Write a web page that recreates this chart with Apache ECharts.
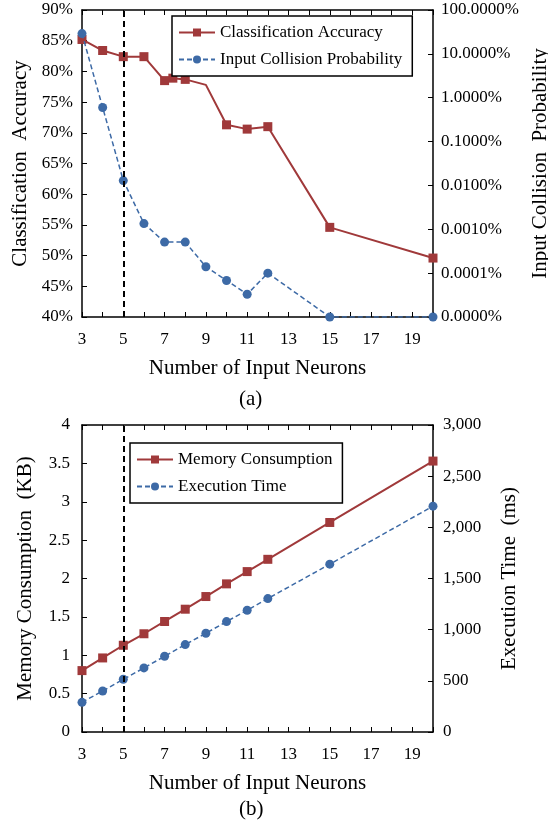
<!DOCTYPE html>
<html>
<head>
<meta charset="utf-8">
<script src="https://cdn.jsdelivr.net/npm/echarts@6/dist/echarts.min.js"></script>
<style>
html,body{margin:0;padding:0;background:#fff;}
#c{width:548px;height:831px;}
</style>
</head>
<body>
<div id="c"></div>
<script>
// ---- data ----
const accNeurons = [3, 4, 5, 6, 7, 7.4, 8, 9, 10, 11, 12, 15, 20];
const accuracy = [85.2, 83.4, 82.4, 82.4, 78.5, 78.9, 78.7, 77.8, 71.3, 70.6, 71.0, 54.6, 49.6];
const colNeurons = [3, 4, 5, 6, 7, 8, 9, 10, 11, 12, 15, 20];
const collision = [0.29, 0.006, 0.000129, 0.0000135, 0.0000051, 0.0000051, 0.0000014, 0.00000068, 0.00000033, 0.000001, 0.0000001, 0.0000001];
const resNeurons = [3, 4, 5, 6, 7, 8, 9, 10, 11, 12, 15, 20];
const memoryKB = [0.80, 0.965, 1.13, 1.28, 1.44, 1.60, 1.765, 1.93, 2.09, 2.25, 2.73, 3.53];
const execMs = [290, 401, 515, 626, 740, 854, 965, 1079, 1190, 1304, 1640, 2207];
const xLabelValues = [3, 5, 7, 9, 11, 13, 15, 17, 19];
const noMarkerX = [9];
const markX = 5;

const FONT = 'Liberation Serif';
const RED = '#A0393A';
const BLUE = '#3D6AA6';

function zip(xs, ys){ return xs.map((x,i)=>[x, ys[i]]); }

const grids = [
  {left: 82, top: 10, width: 351, height: 307, outerBoundsMode:'none', containLabel:false},
  {left: 82, top: 425, width: 351, height: 307, outerBoundsMode:'none', containLabel:false}
];

function xAxisBottom(gi){
  return {
    type:'value', gridIndex:gi, min:3, max:20, interval:1, position:'bottom',
    name:'Number of Input Neurons', nameLocation:'middle', nameGap:41,
    nameTextStyle:{fontFamily:FONT, fontSize:21, color:'#000'},
    axisLine:{show:true, onZero:false, lineStyle:{color:'#000', width:1.5}},
    axisTick:{show:true, inside:true, length:5, lineStyle:{color:'#000'}},
    axisLabel:{fontFamily:FONT, fontSize:17, color:'#000', margin:14,
      formatter:v=> xLabelValues.indexOf(v)>=0 ? String(v) : ''},
    splitLine:{show:false}
  };
}
function xAxisTop(gi){
  return {
    type:'value', gridIndex:gi, min:3, max:20, interval:1, position:'top',
    axisLine:{show:true, onZero:false, lineStyle:{color:'#000', width:1.5}},
    axisTick:{show:true, inside:true, length:5, lineStyle:{color:'#000'}},
    axisLabel:{show:false}, splitLine:{show:false}
  };
}

const legendBase = {
  orient:'vertical', padding:[8,10,8,6], itemGap:10,
  itemWidth:36, itemHeight:10,
  borderColor:'#000', borderWidth:1.5, backgroundColor:'#fff',
  textStyle:{fontFamily:FONT, fontSize:17, color:'#000'}
};

const option = {
  animation:false,
  backgroundColor:'#fff',
  textStyle:{fontFamily:FONT},
  grid: grids,
  title:[
    {text:'(a)', top:384, left:234, textStyle:{fontFamily:FONT, fontSize:21, fontWeight:'normal', color:'#000'}},
    {text:'(b)', top:794, left:234, textStyle:{fontFamily:FONT, fontSize:21, fontWeight:'normal', color:'#000'}}
  ],
  legend:[
    Object.assign({}, legendBase, {data:['Classification Accuracy','Input Collision Probability'], left:172, top:16}),
    Object.assign({}, legendBase, {data:['Memory Consumption','Execution Time'], left:130, top:443})
  ],
  xAxis:[ xAxisBottom(0), xAxisTop(0), xAxisBottom(1), xAxisTop(1) ],
  yAxis:[
    {
      type:'value', gridIndex:0, min:40, max:90, interval:5, position:'left',
      name:'Classification  Accuracy', nameLocation:'middle', nameGap:50, nameRotate:90,
      nameTextStyle:{fontFamily:FONT, fontSize:21, color:'#000'},
      axisLine:{show:true, lineStyle:{color:'#000', width:1.5}},
      axisTick:{show:true, inside:true, length:5, lineStyle:{color:'#000'}},
      axisLabel:{fontFamily:FONT, fontSize:17, color:'#000', margin:9, formatter:v=>v+'%'},
      splitLine:{show:false}
    },
    {
      type:'log', gridIndex:0, min:0.0000001, max:1, logBase:10, position:'right',
      name:'Input Collision  Probability', nameLocation:'middle', nameGap:96, nameRotate:90,
      nameTextStyle:{fontFamily:FONT, fontSize:21, color:'#000'},
      axisLine:{show:true, lineStyle:{color:'#000', width:1.5}},
      axisTick:{show:true, inside:true, length:5, lineStyle:{color:'#000'}},
      axisLabel:{fontFamily:FONT, fontSize:17, color:'#000', margin:8,
        formatter:v=> (v*100).toFixed(4)+'%'},
      splitLine:{show:false}
    },
    {
      type:'value', gridIndex:1, min:0, max:4, interval:0.5, position:'left',
      name:'Memory Consumption  (KB)', nameLocation:'middle', nameGap:46, nameRotate:90,
      nameTextStyle:{fontFamily:FONT, fontSize:21, color:'#000'},
      axisLine:{show:true, lineStyle:{color:'#000', width:1.5}},
      axisTick:{show:true, inside:true, length:5, lineStyle:{color:'#000'}},
      axisLabel:{fontFamily:FONT, fontSize:17, color:'#000', margin:12},
      splitLine:{show:false}
    },
    {
      type:'value', gridIndex:1, min:0, max:3000, interval:500, position:'right',
      name:'Execution Time  (ms)', nameLocation:'middle', nameGap:66, nameRotate:90,
      nameTextStyle:{fontFamily:FONT, fontSize:21, color:'#000'},
      axisLine:{show:true, lineStyle:{color:'#000', width:1.5}},
      axisTick:{show:true, inside:true, length:5, lineStyle:{color:'#000'}},
      axisLabel:{fontFamily:FONT, fontSize:17, color:'#000', margin:10,
        formatter:v=> v.toLocaleString('en-US')},
      splitLine:{show:false}
    }
  ],
  series:[
    {
      name:'Classification Accuracy', type:'line', xAxisIndex:0, yAxisIndex:0,
      data: zip(accNeurons, accuracy).map(p=> noMarkerX.indexOf(p[0])>=0 ? {value:p, symbol:'none'} : {value:p}),
      symbol:'rect', symbolSize:9, showAllSymbol:true,
      lineStyle:{color:RED, width:2}, itemStyle:{color:RED},
      markLine:{silent:true, symbol:'none', label:{show:false},
        lineStyle:{color:'#000', type:[6,4], width:2},
        data:[{xAxis:markX}]},
      z:3
    },
    {
      name:'Input Collision Probability', type:'line', xAxisIndex:0, yAxisIndex:1,
      data: zip(colNeurons, collision),
      symbol:'circle', symbolSize:9, showAllSymbol:true,
      lineStyle:{color:BLUE, width:1.5, type:[5,3]}, itemStyle:{color:BLUE},
      z:4
    },
    {
      name:'Memory Consumption', type:'line', xAxisIndex:2, yAxisIndex:2,
      data: zip(resNeurons, memoryKB),
      symbol:'rect', symbolSize:9, showAllSymbol:true,
      lineStyle:{color:RED, width:2}, itemStyle:{color:RED},
      markLine:{silent:true, symbol:'none', label:{show:false},
        lineStyle:{color:'#000', type:[6,4], width:2},
        data:[{xAxis:markX}]},
      z:3
    },
    {
      name:'Execution Time', type:'line', xAxisIndex:2, yAxisIndex:3,
      data: zip(resNeurons, execMs),
      symbol:'circle', symbolSize:9, showAllSymbol:true,
      lineStyle:{color:BLUE, width:1.5, type:[5,3]}, itemStyle:{color:BLUE},
      z:4
    }
  ]
};

const chart = echarts.init(document.getElementById('c'), null, {renderer:'canvas'});
chart.setOption(option);
</script>
</body>
</html>
